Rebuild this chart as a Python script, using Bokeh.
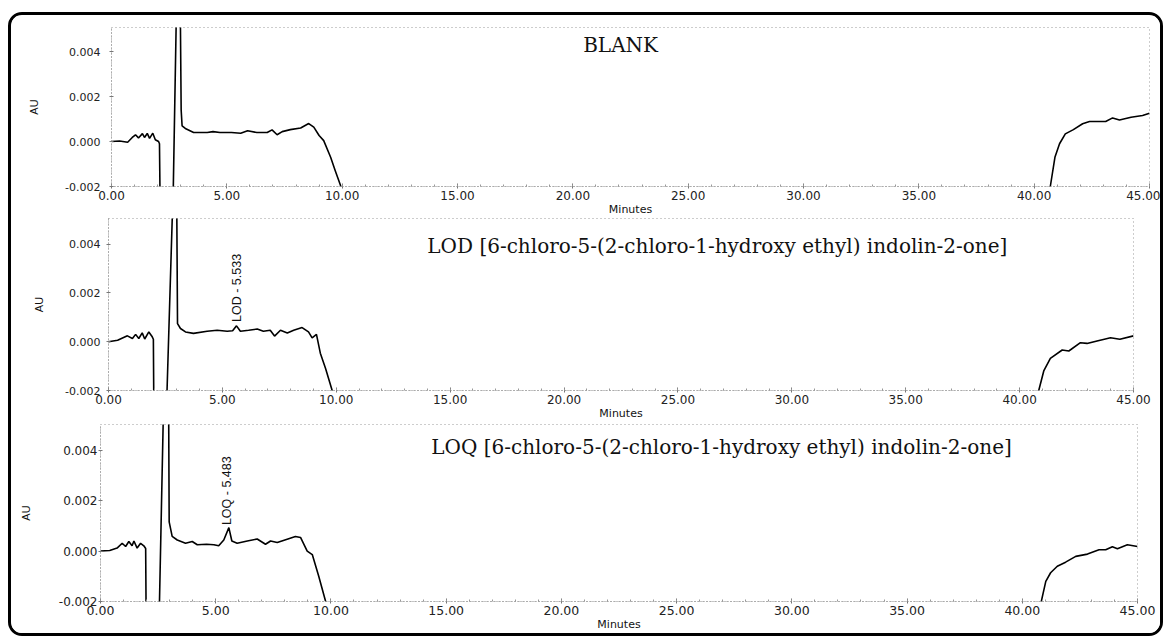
import math
from bokeh.plotting import figure
from bokeh.layouts import column
from bokeh.models import Range1d, FixedTicker, NumeralTickFormatter, Label
from bokeh.embed import file_html
from bokeh.resources import INLINE

# ---------------- data ----------------
x_ticks = [0, 5, 10, 15, 20, 25, 30, 35, 40, 45]
x_minor = list(range(0, 46))
y_ticks = [-0.002, 0.0, 0.002, 0.004]

blank_t = [0, 0.35, 0.7, 0.9, 1.04, 1.17, 1.34, 1.43, 1.55, 1.65,
           1.79, 1.9, 2.04, 2.08, 2.12, 2.62, 2.68, 2.8, 2.9, 2.99,
           3.02, 3.06, 3.2, 3.56, 4.15, 4.4, 4.7, 5.2, 5.6, 5.9,
           6.3, 6.75, 6.96, 7.18, 7.4, 7.75, 8.2, 8.55, 8.77, 9.0,
           9.2, 9.5, 9.7, 9.93, 10.05, 40.6, 40.7, 40.9, 41.1, 41.35,
           41.7, 42.1, 42.4, 42.8, 43.1, 43.4, 43.7, 44.2, 44.7, 45.0]
blank_au = [0.0, 0.00002, -0.00003, 0.00018, 0.0003, 0.00016, 0.00035, 0.00018, 0.00036, 0.00014,
            0.00037, 0.00008, 0.0, -0.0001, -0.004, -0.004, -0.002, 0.005, 0.012, 0.005,
            0.0014, 0.0007, 0.00058, 0.0004, 0.0004, 0.00044, 0.0004, 0.0004, 0.00037, 0.00048,
            0.0004, 0.0004, 0.00052, 0.0003, 0.00044, 0.00053, 0.0006, 0.0008, 0.00064, 0.00027,
            0.00004, -0.0007, -0.0013, -0.00196, -0.0025, -0.0025, -0.002, -0.0007, -0.0001, 0.00034,
            0.00053, 0.00079, 0.00089, 0.00089, 0.00089, 0.00105, 0.00096, 0.00108, 0.00116, 0.00126]

lod_t = [0, 0.4, 0.83, 1.05, 1.19, 1.33, 1.48, 1.59, 1.77, 1.92,
         1.97, 2.0, 2.52, 2.57, 2.8, 2.9, 3.0, 3.03, 3.16, 3.38,
         3.73, 4.33, 4.77, 5.21, 5.45, 5.62, 5.79, 6.15, 6.53, 6.8,
         7.1, 7.29, 7.55, 7.85, 8.13, 8.5, 8.78, 8.94, 9.13, 9.3,
         9.53, 9.82, 9.95, 40.7, 40.84, 41.06, 41.35, 41.87, 42.16, 42.67,
         42.96, 43.4, 43.99, 44.4, 45.0]
lod_au = [0.0, 0.00006, 0.00024, 0.00013, 0.0003, 0.00013, 0.00036, 0.00011, 0.0004, 0.0002,
          0.0001, -0.004, -0.004, -0.002, 0.0051, 0.012, 0.0051, 0.00074, 0.00054, 0.0004,
          0.00034, 0.00043, 0.00047, 0.00043, 0.00045, 0.00065, 0.00043, 0.00047, 0.00052, 0.00043,
          0.00047, 0.00023, 0.00047, 0.00036, 0.00047, 0.00058, 0.0004, 0.00016, 0.0003, -0.00047,
          -0.0011, -0.002, -0.0025, -0.0025, -0.002, -0.0012, -0.00068, -0.00034, -0.00038, -0.00004,
          -0.00007, 0.00003, 0.00016, 0.0001, 0.00024]

loq_t = [0, 0.4, 0.72, 0.94, 1.09, 1.23, 1.37, 1.45, 1.59, 1.74,
         1.88, 1.96, 1.99, 2.52, 2.56, 2.72, 2.85, 2.96, 2.98, 3.11,
         3.33, 3.69, 3.98, 4.2, 4.6, 4.92, 5.13, 5.35, 5.57, 5.7,
         5.93, 6.37, 6.8, 7.16, 7.38, 7.67, 8.1, 8.46, 8.68, 8.97,
         9.19, 9.47, 9.77, 9.9, 40.7, 40.8, 41.02, 41.23, 41.52, 41.88,
         42.32, 42.83, 43.33, 43.62, 43.91, 44.13, 44.56, 45.0]
loq_au = [0.0, 0.00002, 0.00012, 0.00031, 0.00018, 0.00038, 0.00021, 0.0004, 0.00012, 0.00031,
          0.00021, 0.0001, -0.004, -0.004, -0.002, 0.0051, 0.012, 0.0051, 0.00116, 0.00058,
          0.00044, 0.00031, 0.00038, 0.00025, 0.00027, 0.00025, 0.00021, 0.00044, 0.00093, 0.0004,
          0.00031, 0.0004, 0.00048, 0.00027, 0.0004, 0.00034, 0.00047, 0.00058, 0.00054, 0.0,
          -0.00014, -0.001, -0.002, -0.0025, -0.0025, -0.0021, -0.0012, -0.00086, -0.0006, -0.00044,
          -0.00021, -0.00012, 0.00005, 0.00005, 0.00017, 0.00009, 0.00025, 0.00018]

titles = ["BLANK",
          "LOD [6-chloro-5-(2-chloro-1-hydroxy ethyl) indolin-2-one]",
          "LOQ [6-chloro-5-(2-chloro-1-hydroxy ethyl) indolin-2-one]"]
peak_labels = [None, "LOD - 5.533", "LOQ - 5.483"]
peak_times = [None, 5.62, 5.5]

assert len(blank_t) == len(blank_au)
assert len(lod_t) == len(lod_au)
assert len(loq_t) == len(loq_au)

W = 1149


def make_panel(t, au, height, ml, mr, mt, mb, ytop, title, title_xy, ylab_size,
               ylab_standoff, au_standoff, xlab_size, peak=None):
    p = figure(width=W, height=height,
               x_range=Range1d(0, 45), y_range=Range1d(-0.002, ytop),
               output_backend="svg", toolbar_location=None,
               min_border_left=ml, min_border_right=mr,
               min_border_top=mt, min_border_bottom=mb,
               background_fill_color="white", border_fill_color="white")
    p.frame_align = False
    p.xgrid.visible = False
    p.ygrid.visible = False
    p.outline_line_color = "#9a9a9a"
    p.outline_line_dash = "1 3"
    p.outline_line_width = 1

    p.line(t, au, line_color="black", line_width=1.6)

    xa = p.xaxis[0]
    xa.ticker = FixedTicker(ticks=x_ticks, minor_ticks=x_minor)
    xa.formatter = NumeralTickFormatter(format="0.00")
    xa.axis_label = "Minutes"
    xa.axis_label_text_font = "DejaVu Sans"
    xa.axis_label_text_font_size = "11px"
    xa.axis_label_text_font_style = "normal"
    xa.axis_label_text_color = "#111111"
    xa.axis_label_standoff = 0
    xa.major_label_text_font = "DejaVu Sans"
    xa.major_label_text_font_size = xlab_size
    xa.major_label_text_color = "#222222"
    xa.major_label_standoff = 2
    xa.axis_line_color = "#8a8a8a"
    xa.axis_line_dash = "1 2"
    xa.major_tick_line_color = "#777777"
    xa.major_tick_in = 3
    xa.major_tick_out = 2
    xa.minor_tick_line_color = "#999999"
    xa.minor_tick_in = 2
    xa.minor_tick_out = 0

    ya = p.yaxis[0]
    ya.ticker = FixedTicker(ticks=y_ticks, minor_ticks=[])
    ya.formatter = NumeralTickFormatter(format="0.000")
    ya.axis_label = "AU"
    ya.axis_label_text_font = "Liberation Sans"
    ya.axis_label_text_font_size = "11px"
    ya.axis_label_text_font_style = "normal"
    ya.axis_label_text_color = "#111111"
    ya.axis_label_standoff = au_standoff
    ya.major_label_text_font = "DejaVu Sans"
    ya.major_label_text_font_size = ylab_size
    ya.major_label_text_color = "#222222"
    ya.major_label_standoff = ylab_standoff
    ya.axis_line_color = "#8a8a8a"
    ya.axis_line_dash = "1 2"
    ya.major_tick_line_color = "#777777"
    ya.major_tick_in = 2
    ya.major_tick_out = 2

    p.add_layout(Label(x=title_xy[0], y=title_xy[1], text=title,
                       text_font="DejaVu Serif", text_font_size="20px",
                       text_align="center", text_baseline="middle",
                       text_color="#111111"))
    if peak is not None:
        p.add_layout(Label(x=peak[0], y=peak[1], text=peak[2], angle=math.pi / 2,
                           text_font="Liberation Sans", text_font_size="12.5px",
                           text_align="left", text_baseline="middle",
                           text_color="#111111"))
    return p


p1 = make_panel(blank_t, blank_au, 203, 100, 11, 12, 32, 0.00507, titles[0],
                (22.07, 0.00431), "11px", 9, 22, "12px")
p2 = make_panel(lod_t, lod_au, 204, 97, 27, 0, 32, 0.00505, titles[1],
                (26.73, 0.00394), "11px", 6, 17, "12px",
                peak=(peak_times[1], 0.00081, peak_labels[1]))
p3 = make_panel(loq_t, loq_au, 211, 89, 23, 2, 32, 0.00502, titles[2],
                (26.95, 0.00412), "12px", 1, 24, "12.5px",
                peak=(peak_times[2], 0.00103, peak_labels[2]))

layout = column(p1, p2, p3, spacing=0,
                styles={"border": "3px solid black", "border-radius": "14px",
                        "margin-top": "12px", "margin-left": "8px",
                        "overflow": "hidden", "background-color": "white"})

open("out.html", "w").write(file_html(layout, INLINE))
